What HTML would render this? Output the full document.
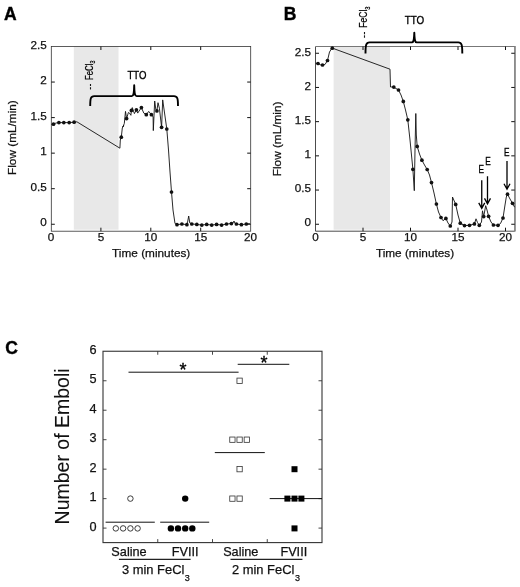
<!DOCTYPE html>
<html><head><meta charset="utf-8"><title>Figure</title>
<style>
html,body{margin:0;padding:0;background:#fff}
svg{display:block}
text{font-family:"Liberation Sans",sans-serif;fill:#111;stroke:#111;stroke-width:0.25px}
.t{font-size:11.7px}
.ax{font-size:11.8px}
.b{font-weight:bold;font-size:17.5px;fill:#000;stroke:#000;stroke-width:0.4px}
.c{font-size:12.7px}
.k{fill:#000;stroke:#000;stroke-width:0.35px}
</style></head><body>
<svg width="520" height="587" viewBox="0 0 520 587">
<rect width="520" height="587" fill="#fff"/>
<g id="panelA">
<rect x="73.8" y="46.5" width="44.7" height="183.2" fill="#e8e8e8"/>
<rect x="51.3" y="46.5" width="199.39999999999998" height="184.7" fill="none" stroke="#333" stroke-width="0.8"/>
<path d="M100.9 231.2v-3.5M100.9 46.5v3.5M150.8 231.2v-3.5M150.8 46.5v3.5M200.70000000000002 231.2v-3.5M200.70000000000002 46.5v3.5M51.3 224.25h3.5M250.7 224.25h-3.5M51.3 188.70h3.5M250.7 188.70h-3.5M51.3 153.15h3.5M250.7 153.15h-3.5M51.3 117.60h3.5M250.7 117.60h-3.5M51.3 82.05h3.5M250.7 82.05h-3.5" stroke="#111" stroke-width="1" fill="none"/>
<text class="t" x="51.0" y="241.4" text-anchor="middle">0</text>
<text class="t" x="100.9" y="241.4" text-anchor="middle">5</text>
<text class="t" x="150.8" y="241.4" text-anchor="middle">10</text>
<text class="t" x="200.70000000000002" y="241.4" text-anchor="middle">15</text>
<text class="t" x="250.60000000000002" y="241.4" text-anchor="middle">20</text>
<text class="t" x="46.8" y="226.4" text-anchor="end">0</text>
<text class="t" x="46.8" y="190.9" text-anchor="end">0.5</text>
<text class="t" x="46.8" y="155.3" text-anchor="end">1</text>
<text class="t" x="46.8" y="119.8" text-anchor="end">1.5</text>
<text class="t" x="46.8" y="84.3" text-anchor="end">2</text>
<text class="t" x="46.8" y="48.7" text-anchor="end">2.5</text>
<text class="ax" x="151.2" y="257" text-anchor="middle">Time (minutes)</text>
<text class="ax" transform="translate(16.2,137.6) rotate(-90)" text-anchor="middle">Flow (mL/min)</text>
<text class="b" x="4" y="19.7">A</text>
<polyline points="51.5,124.2 53.5,124.2 56.0,123.0 58.9,122.6 69.2,122.6 74.1,122.2 76.9,121.8 119.9,148.2 120.3,140.0 121.3,137.2 122.3,128.0 123.8,125.0 122.9,127.0 124.3,123.5 125.5,111.4 126.6,118.6 128.4,112.5 129.5,113.1 130.9,115.3 131.4,110.4 132.3,107.6 134.4,113.6 136.4,109.8 137.7,113.1 141.4,107.6 143.8,113.1 146.3,114.7 148.7,111.4 151.4,114.7 153.1,116.9 153.3,130.6 154.7,101.0 155.8,109.3 156.9,110.9 158.0,102.7 159.4,108.2 161.6,127.3 162.7,99.9 166.8,129.0 168.5,150.0 170.0,172.0 171.5,192.0 173.0,210.0 175.0,223.5 177.0,224.7 181.9,224.0 186.5,224.6 187.6,222.0 188.7,216.0 189.8,223.0 192.0,224.0 196.6,224.4 201.7,225.1 206.6,224.4 211.7,225.1 216.7,224.4 221.6,225.1 226.7,224.0 231.3,223.6 233.0,223.0 234.0,221.0 235.0,223.5 236.4,224.0 241.4,224.7 246.3,224.0 249.8,223.6" fill="none" stroke="#111" stroke-width="0.9" stroke-linejoin="round"/>
<g fill="#111"><circle cx="53.5" cy="124.2" r="1.85"/><circle cx="58.9" cy="122.6" r="1.85"/><circle cx="63.8" cy="122.6" r="1.85"/><circle cx="69.2" cy="122.6" r="1.85"/><circle cx="74.1" cy="122.2" r="1.85"/><circle cx="121.3" cy="137.2" r="1.85"/><circle cx="126.6" cy="118.6" r="1.85"/><circle cx="131.4" cy="110.4" r="1.85"/><circle cx="136.4" cy="109.8" r="1.85"/><circle cx="141.4" cy="107.6" r="1.85"/><circle cx="146.3" cy="114.7" r="1.85"/><circle cx="151.4" cy="114.7" r="1.85"/><circle cx="156.9" cy="110.9" r="1.85"/><circle cx="161.6" cy="127.3" r="1.85"/><circle cx="166.8" cy="129.0" r="1.85"/><circle cx="171.5" cy="192.0" r="1.85"/><circle cx="177.0" cy="224.7" r="1.85"/><circle cx="181.9" cy="224.0" r="1.85"/><circle cx="186.9" cy="224.7" r="1.85"/><circle cx="191.8" cy="224.0" r="1.85"/><circle cx="196.8" cy="224.4" r="1.85"/><circle cx="201.8" cy="225.1" r="1.85"/><circle cx="206.7" cy="224.4" r="1.85"/><circle cx="211.7" cy="225.1" r="1.85"/><circle cx="216.6" cy="224.4" r="1.85"/><circle cx="221.6" cy="225.1" r="1.85"/><circle cx="226.5" cy="224.0" r="1.85"/><circle cx="231.4" cy="223.6" r="1.85"/><circle cx="236.4" cy="224.0" r="1.85"/><circle cx="241.4" cy="224.7" r="1.85"/><circle cx="246.3" cy="224.0" r="1.85"/></g>
<path d="M90.2 106 C90.2 98.5 90.7 96.1 94.2 96.1 L131.8 96.1 C133.4 96.1 134 94 134.2 85.2 C134.4 94 135 96.1 136.6 96.1 L174 96.1 C177.5 96.1 178 98.5 178 106" fill="none" stroke="#000" stroke-width="1.9" stroke-linejoin="round"/>
<text class="k" x="137" y="78.6" text-anchor="middle" style="font-size:11.3px" textLength="19" lengthAdjust="spacingAndGlyphs">TTO</text>
<text class="k" transform="translate(92.5,89.5) rotate(-90) scale(0.77,1)" style="font-size:10.2px;word-spacing:1px;stroke-width:0.25px"><tspan letter-spacing="0.8">--</tspan> FeCl<tspan style="font-size:7px" dy="2.4">3</tspan></text>
</g>
<g id="panelB">
<rect x="333.6" y="46.5" width="56.4" height="183.2" fill="#e8e8e8"/>
<path d="M315.5 46.5V231.2H514.75" fill="none" stroke="#383838" stroke-width="0.9"/><path d="M315.5 46.5H514.75" fill="none" stroke="#777" stroke-width="1.1"/><path d="M514.95 46.0V231.6" fill="none" stroke="#777" stroke-width="1.6"/>
<path d="M363.0 231.2v-3.5M363.0 46.5v3.5M410.5 231.2v-3.5M410.5 46.5v3.5M458.0 231.2v-3.5M458.0 46.5v3.5M505.5 231.2v-3.5M505.5 46.5v3.5M315.5 224.25h3.5M514.75 224.25h-3.5M315.5 190.05h3.5M514.75 190.05h-3.5M315.5 155.85h3.5M514.75 155.85h-3.5M315.5 121.65h3.5M514.75 121.65h-3.5M315.5 87.45h3.5M514.75 87.45h-3.5M315.5 53.25h3.5M514.75 53.25h-3.5" stroke="#111" stroke-width="1" fill="none"/>
<text class="t" x="315.5" y="241.4" text-anchor="middle">0</text>
<text class="t" x="363.0" y="241.4" text-anchor="middle">5</text>
<text class="t" x="410.5" y="241.4" text-anchor="middle">10</text>
<text class="t" x="458.0" y="241.4" text-anchor="middle">15</text>
<text class="t" x="505.5" y="241.4" text-anchor="middle">20</text>
<text class="t" x="311" y="226.4" text-anchor="end">0</text>
<text class="t" x="311" y="192.2" text-anchor="end">0.5</text>
<text class="t" x="311" y="158.0" text-anchor="end">1</text>
<text class="t" x="311" y="123.8" text-anchor="end">1.5</text>
<text class="t" x="311" y="89.6" text-anchor="end">2</text>
<text class="t" x="311" y="55.5" text-anchor="end">2.5</text>
<text class="ax" x="415" y="257" text-anchor="middle">Time (minutes)</text>
<text class="ax" transform="translate(281.2,138.9) rotate(-90)" text-anchor="middle">Flow (mL/min)</text>
<text class="b" x="283.7" y="19.7">B</text>
<polyline points="315.8,63.3 318.0,63.5 320.5,64.8 322.5,65.0 325.0,64.5 327.5,60.5 329.5,52.0 332.0,48.0 390.0,69.2 390.5,87.0 393.5,87.0 398.5,90.0 401.0,95.0 403.3,101.4 405.5,110.0 407.8,119.8 410.0,140.0 412.9,169.3 414.3,190.7 415.0,150.0 415.8,113.5 416.3,135.0 417.2,146.4 419.5,154.0 421.9,160.2 424.5,165.0 427.2,169.5 429.5,175.0 431.5,182.6 434.0,193.0 436.4,204.0 438.5,212.0 441.0,217.5 443.0,220.7 445.9,218.4 448.0,223.0 450.3,226.0 452.0,222.0 452.5,197.0 455.7,204.4 458.0,215.0 460.3,223.2 464.5,225.6 469.5,225.3 474.4,223.9 476.0,218.8 477.5,222.5 479.3,225.3 481.5,222.0 482.5,210.8 483.7,216.6 485.7,205.7 487.0,210.0 488.6,216.3 491.0,222.0 493.4,225.0 498.0,225.3 500.5,223.5 503.0,218.0 505.0,205.0 506.3,197.0 507.5,194.2 510.0,199.0 512.5,203.3 514.6,207.2" fill="none" stroke="#111" stroke-width="0.9" stroke-linejoin="round"/>
<g fill="#111"><circle cx="318.0" cy="63.5" r="1.85"/><circle cx="322.5" cy="65.0" r="1.85"/><circle cx="327.5" cy="60.5" r="1.85"/><circle cx="332.3" cy="48.2" r="1.85"/><circle cx="393.8" cy="87.1" r="1.85"/><circle cx="398.5" cy="90.0" r="1.85"/><circle cx="403.3" cy="101.4" r="1.85"/><circle cx="407.8" cy="119.8" r="1.85"/><circle cx="412.9" cy="169.3" r="1.85"/><circle cx="417.2" cy="146.4" r="1.85"/><circle cx="421.9" cy="160.2" r="1.85"/><circle cx="427.2" cy="169.5" r="1.85"/><circle cx="431.5" cy="182.6" r="1.85"/><circle cx="436.4" cy="204.0" r="1.85"/><circle cx="441.0" cy="217.5" r="1.85"/><circle cx="445.9" cy="218.4" r="1.85"/><circle cx="450.3" cy="226.0" r="1.85"/><circle cx="455.7" cy="204.4" r="1.85"/><circle cx="460.3" cy="223.2" r="1.85"/><circle cx="464.5" cy="225.6" r="1.85"/><circle cx="469.5" cy="225.3" r="1.85"/><circle cx="474.4" cy="223.9" r="1.85"/><circle cx="479.3" cy="225.3" r="1.85"/><circle cx="483.7" cy="216.6" r="1.85"/><circle cx="488.6" cy="216.3" r="1.85"/><circle cx="493.4" cy="225.0" r="1.85"/><circle cx="498.0" cy="225.3" r="1.85"/><circle cx="503.0" cy="218.0" r="1.85"/><circle cx="507.5" cy="194.2" r="1.85"/><circle cx="512.5" cy="203.3" r="1.85"/></g>
<path d="M365.5 53.5 C365.5 45 366 42.4 369.5 42.4 L411.9 42.4 C413.5 42.4 414.1 40.4 414.3 32.6 C414.5 40.4 415.1 42.4 416.7 42.4 L458.3 42.4 C461.8 42.4 462.3 45 462.3 53.5" fill="none" stroke="#000" stroke-width="1.9" stroke-linejoin="round"/>
<text class="k" x="414.4" y="24.3" text-anchor="middle" style="font-size:11.3px" textLength="19.5" lengthAdjust="spacingAndGlyphs">TTO</text>
<text class="k" transform="translate(367.4,38) rotate(-90) scale(0.84,1)" style="font-size:10.2px;word-spacing:1px;stroke-width:0.25px"><tspan letter-spacing="0.8">--</tspan> FeCl<tspan style="font-size:7px" dy="2.4">3</tspan></text>
<path d="M481.75 180.2V208.4M478.75 202.9L481.75 208.4L484.75 202.9" fill="none" stroke="#000" stroke-width="1.3"/>
<path d="M487.5 176.2V203.9M484.5 198.4L487.5 203.9L490.5 198.4" fill="none" stroke="#000" stroke-width="1.3"/>
<path d="M507 161V189.2M504 183.7L507 189.2L510 183.7" fill="none" stroke="#000" stroke-width="1.3"/>
<text x="481.3" y="172.7" text-anchor="middle" class="k" style="font-size:10.8px" textLength="5.5" lengthAdjust="spacingAndGlyphs">E</text>
<text x="488.1" y="165" text-anchor="middle" class="k" style="font-size:10.8px" textLength="5.5" lengthAdjust="spacingAndGlyphs">E</text>
<text x="506.7" y="156.1" text-anchor="middle" class="k" style="font-size:10.8px" textLength="5.5" lengthAdjust="spacingAndGlyphs">E</text>
</g>
<g id="panelC">
<rect x="103" y="351.25" width="219" height="191.35000000000002" fill="none" stroke="#333" stroke-width="1.1"/>
<path d="M157.75 542.6v-3.5M157.75 351.25v3.5M212.5 542.6v-3.5M212.5 351.25v3.5M267.25 542.6v-3.5M267.25 351.25v3.5M103 528.10h3.5M322 528.10h-3.5M103 498.63h3.5M322 498.63h-3.5M103 469.16h3.5M322 469.16h-3.5M103 439.69h3.5M322 439.69h-3.5M103 410.22h3.5M322 410.22h-3.5M103 380.75h3.5M322 380.75h-3.5" stroke="#333" stroke-width="0.9" fill="none"/>
<text class="c" x="96.5" y="530.6" text-anchor="end">0</text>
<text class="c" x="96.5" y="501.1" text-anchor="end">1</text>
<text class="c" x="96.5" y="471.7" text-anchor="end">2</text>
<text class="c" x="96.5" y="442.2" text-anchor="end">3</text>
<text class="c" x="96.5" y="412.7" text-anchor="end">4</text>
<text class="c" x="96.5" y="383.2" text-anchor="end">5</text>
<text class="c" x="96.5" y="353.8" text-anchor="end">6</text>
<text transform="translate(69,446.4) rotate(-90)" text-anchor="middle" style="font-size:19.5px;stroke-width:0.1px">Number of Emboli</text>
<text class="b" x="5.2" y="354.4">C</text>
<path d="M118.9 559.4H190.6M230.5 559.4H302.4" stroke="#222" stroke-width="1.2" fill="none"/>
<path d="M105.6 522.2H154.8M160.2 522.2H209.2M214.8 452.6H264.8M269.7 498.6H322M128.5 372.2H238.6M237.7 364.3H289.3" stroke="#111" stroke-width="1" fill="none"/>
<g fill="#fff" stroke="#333" stroke-width="0.95"><circle cx="115.8" cy="528.4" r="2.75"/><circle cx="123.1" cy="528.4" r="2.75"/><circle cx="130.4" cy="528.4" r="2.75"/><circle cx="137.6" cy="528.4" r="2.75"/><circle cx="130.4" cy="498.6" r="2.75"/></g>
<g fill="#000"><circle cx="170.9" cy="528.4" r="3.2"/><circle cx="178" cy="528.4" r="3.2"/><circle cx="185.2" cy="528.4" r="3.2"/><circle cx="192.3" cy="528.4" r="3.2"/><circle cx="185.2" cy="498.6" r="3.2"/></g>
<g fill="#fff" stroke="#333" stroke-width="0.8"><rect x="236.95" y="378.10" width="5.3" height="5.3"/><rect x="229.75" y="437.04" width="5.3" height="5.3"/><rect x="236.95" y="437.04" width="5.3" height="5.3"/><rect x="244.15" y="437.04" width="5.3" height="5.3"/><rect x="236.95" y="466.51" width="5.3" height="5.3"/><rect x="229.75" y="495.98" width="5.3" height="5.3"/><rect x="236.95" y="495.98" width="5.3" height="5.3"/></g>
<g fill="#000"><rect x="291.5" y="466.2" width="6" height="6"/><rect x="284.4" y="495.6" width="6" height="6"/><rect x="291.5" y="495.6" width="6" height="6"/><rect x="298.4" y="495.6" width="6" height="6"/><rect x="291.5" y="525.4" width="6" height="6"/></g>
<text x="183" y="375.6" text-anchor="middle" style="font-size:18px" class="k">*</text>
<text x="264" y="368.8" text-anchor="middle" style="font-size:18px" class="k">*</text>
<text class="c" x="129" y="555.7" text-anchor="middle">Saline</text>
<text class="c" x="185.2" y="555.7" text-anchor="middle">FVIII</text>
<text class="c" x="240.8" y="555.7" text-anchor="middle">Saline</text>
<text class="c" x="293.8" y="555.7" text-anchor="middle">FVIII</text>
<text class="c" x="122" y="573.7" style="font-size:12.9px">3 min FeCl<tspan style="font-size:9px" dy="7.3" dx="0.3">3</tspan></text>
<text class="c" x="232" y="573.7" style="font-size:12.9px">2 min FeCl<tspan style="font-size:9px" dy="7.3" dx="0.6">3</tspan></text>
</g>
</svg>
</body></html>
